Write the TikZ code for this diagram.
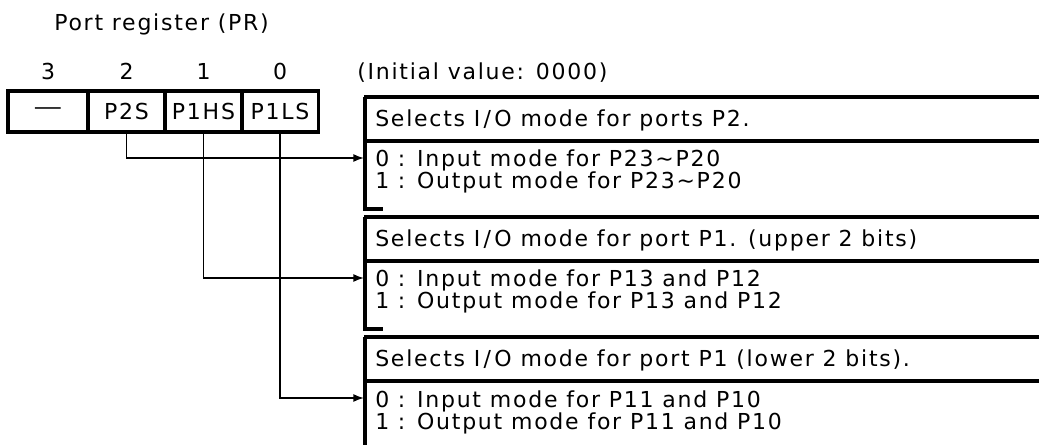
\documentclass[tikz,border=0pt]{standalone}
\usepackage{fontspec}
\setmainfont{DejaVu Sans}[LetterSpace=8]
\usepackage{graphicx}
\usetikzlibrary{arrows.meta}

\newcommand{\io}{I\kern2.5pt/\kern2.5pt O}

\begin{document}
\begin{tikzpicture}[
    x=0.75pt, y=-0.75pt,
    bit cell/.style={
        draw=black,
        line width=2.4pt,
        minimum width=57.75pt,
        minimum height=30.75pt,
        inner sep=0pt,
        font=\fontsize{16.5pt}{19pt}\selectfont
    },
    bit num/.style={
        anchor=base,
        inner sep=0pt,
        font=\fontsize{16.5pt}{19pt}\selectfont
    },
    plain text/.style={
        anchor=base west,
        inner sep=0pt,
        font=\fontsize{16.5pt}{19pt}\selectfont
    },
    frame rule/.style={line width=2.6pt},
    side rule/.style={line width=2.4pt},
    link/.style={-{Latex[length=8pt,width=6pt]}, line width=1.2pt}
]

\useasboundingbox (0,0) rectangle (1039,445);

% Vertical spacing of the description blocks
\def\vstep{120}

% Register
\node[plain text] (title) at (54,31) {Port register (PR)};
\node[plain text] (init) at (357,80) {(Initial value: 0000)};

\node[bit cell, minimum width=60pt] (b3) at (48,111.5) {\raisebox{1pt}{\scalebox{1.3}[1]{---}}};
\node[bit cell] (b2) at (126.5,111.5) {P2S};
\node[bit cell] (b1) at (203.5,111.5) {P1HS};
\node[bit cell] (b0) at (280,111.5) {P1LS};

\node[bit num] (n3) at (48,80) {3};
\node[bit num] (n2) at (126.5,80) {2};
\node[bit num] (n1) at (203.5,80) {1};
\node[bit num] (n0) at (280,80) {0};

% Block 1 - P2S
\draw[frame rule] (364,97) -- (1039,97);
\node[plain text] (h2) at (375,127) {Selects \io{} mode for ports P2.};
\draw[frame rule] (364,141) -- (1039,141);
\node[plain text] (d2a) at (375,167) {0 : Input mode for P23∼P20};
\node[plain text] (d2b) at (375,189) {1 : Output mode for P23∼P20};
\draw[side rule] (365,97) -- (365,209) -- (383,209);
\coordinate (in2) at (364,158);

% Block 2 - P1HS
\draw[frame rule] (364,97+\vstep) -- (1039,97+\vstep);
\node[plain text] (h1) at (375,127+\vstep) {Selects \io{} mode for port P1. (upper 2 bits)};
\draw[frame rule] (364,141+\vstep) -- (1039,141+\vstep);
\node[plain text] (d1a) at (375,167+\vstep) {0 : Input mode for P13 and P12};
\node[plain text] (d1b) at (375,189+\vstep) {1 : Output mode for P13 and P12};
\draw[side rule] (365,97+\vstep) -- (365,209+\vstep) -- (383,209+\vstep);
\coordinate (in1) at (364,158+\vstep);

% Block 3 - P1LS
\draw[frame rule] (364,97+2*\vstep) -- (1039,97+2*\vstep);
\node[plain text] (h0) at (375,127+2*\vstep) {Selects \io{} mode for port P1 (lower 2 bits).};
\draw[frame rule] (364,141+2*\vstep) -- (1039,141+2*\vstep);
\node[plain text] (d0a) at (375,167+2*\vstep) {0 : Input mode for P11 and P10};
\node[plain text] (d0b) at (375,189+2*\vstep) {1 : Output mode for P11 and P10};
\draw[side rule] (365,97+2*\vstep) -- (365,445);
\coordinate (in0) at (364,158+2*\vstep);

% Links from the bits to the blocks
\draw[link] (b2.south) |- (in2);
\draw[link] (b1.south) |- (in1);
\draw[link] (b0.south) |- (in0);

\end{tikzpicture}
\end{document}
